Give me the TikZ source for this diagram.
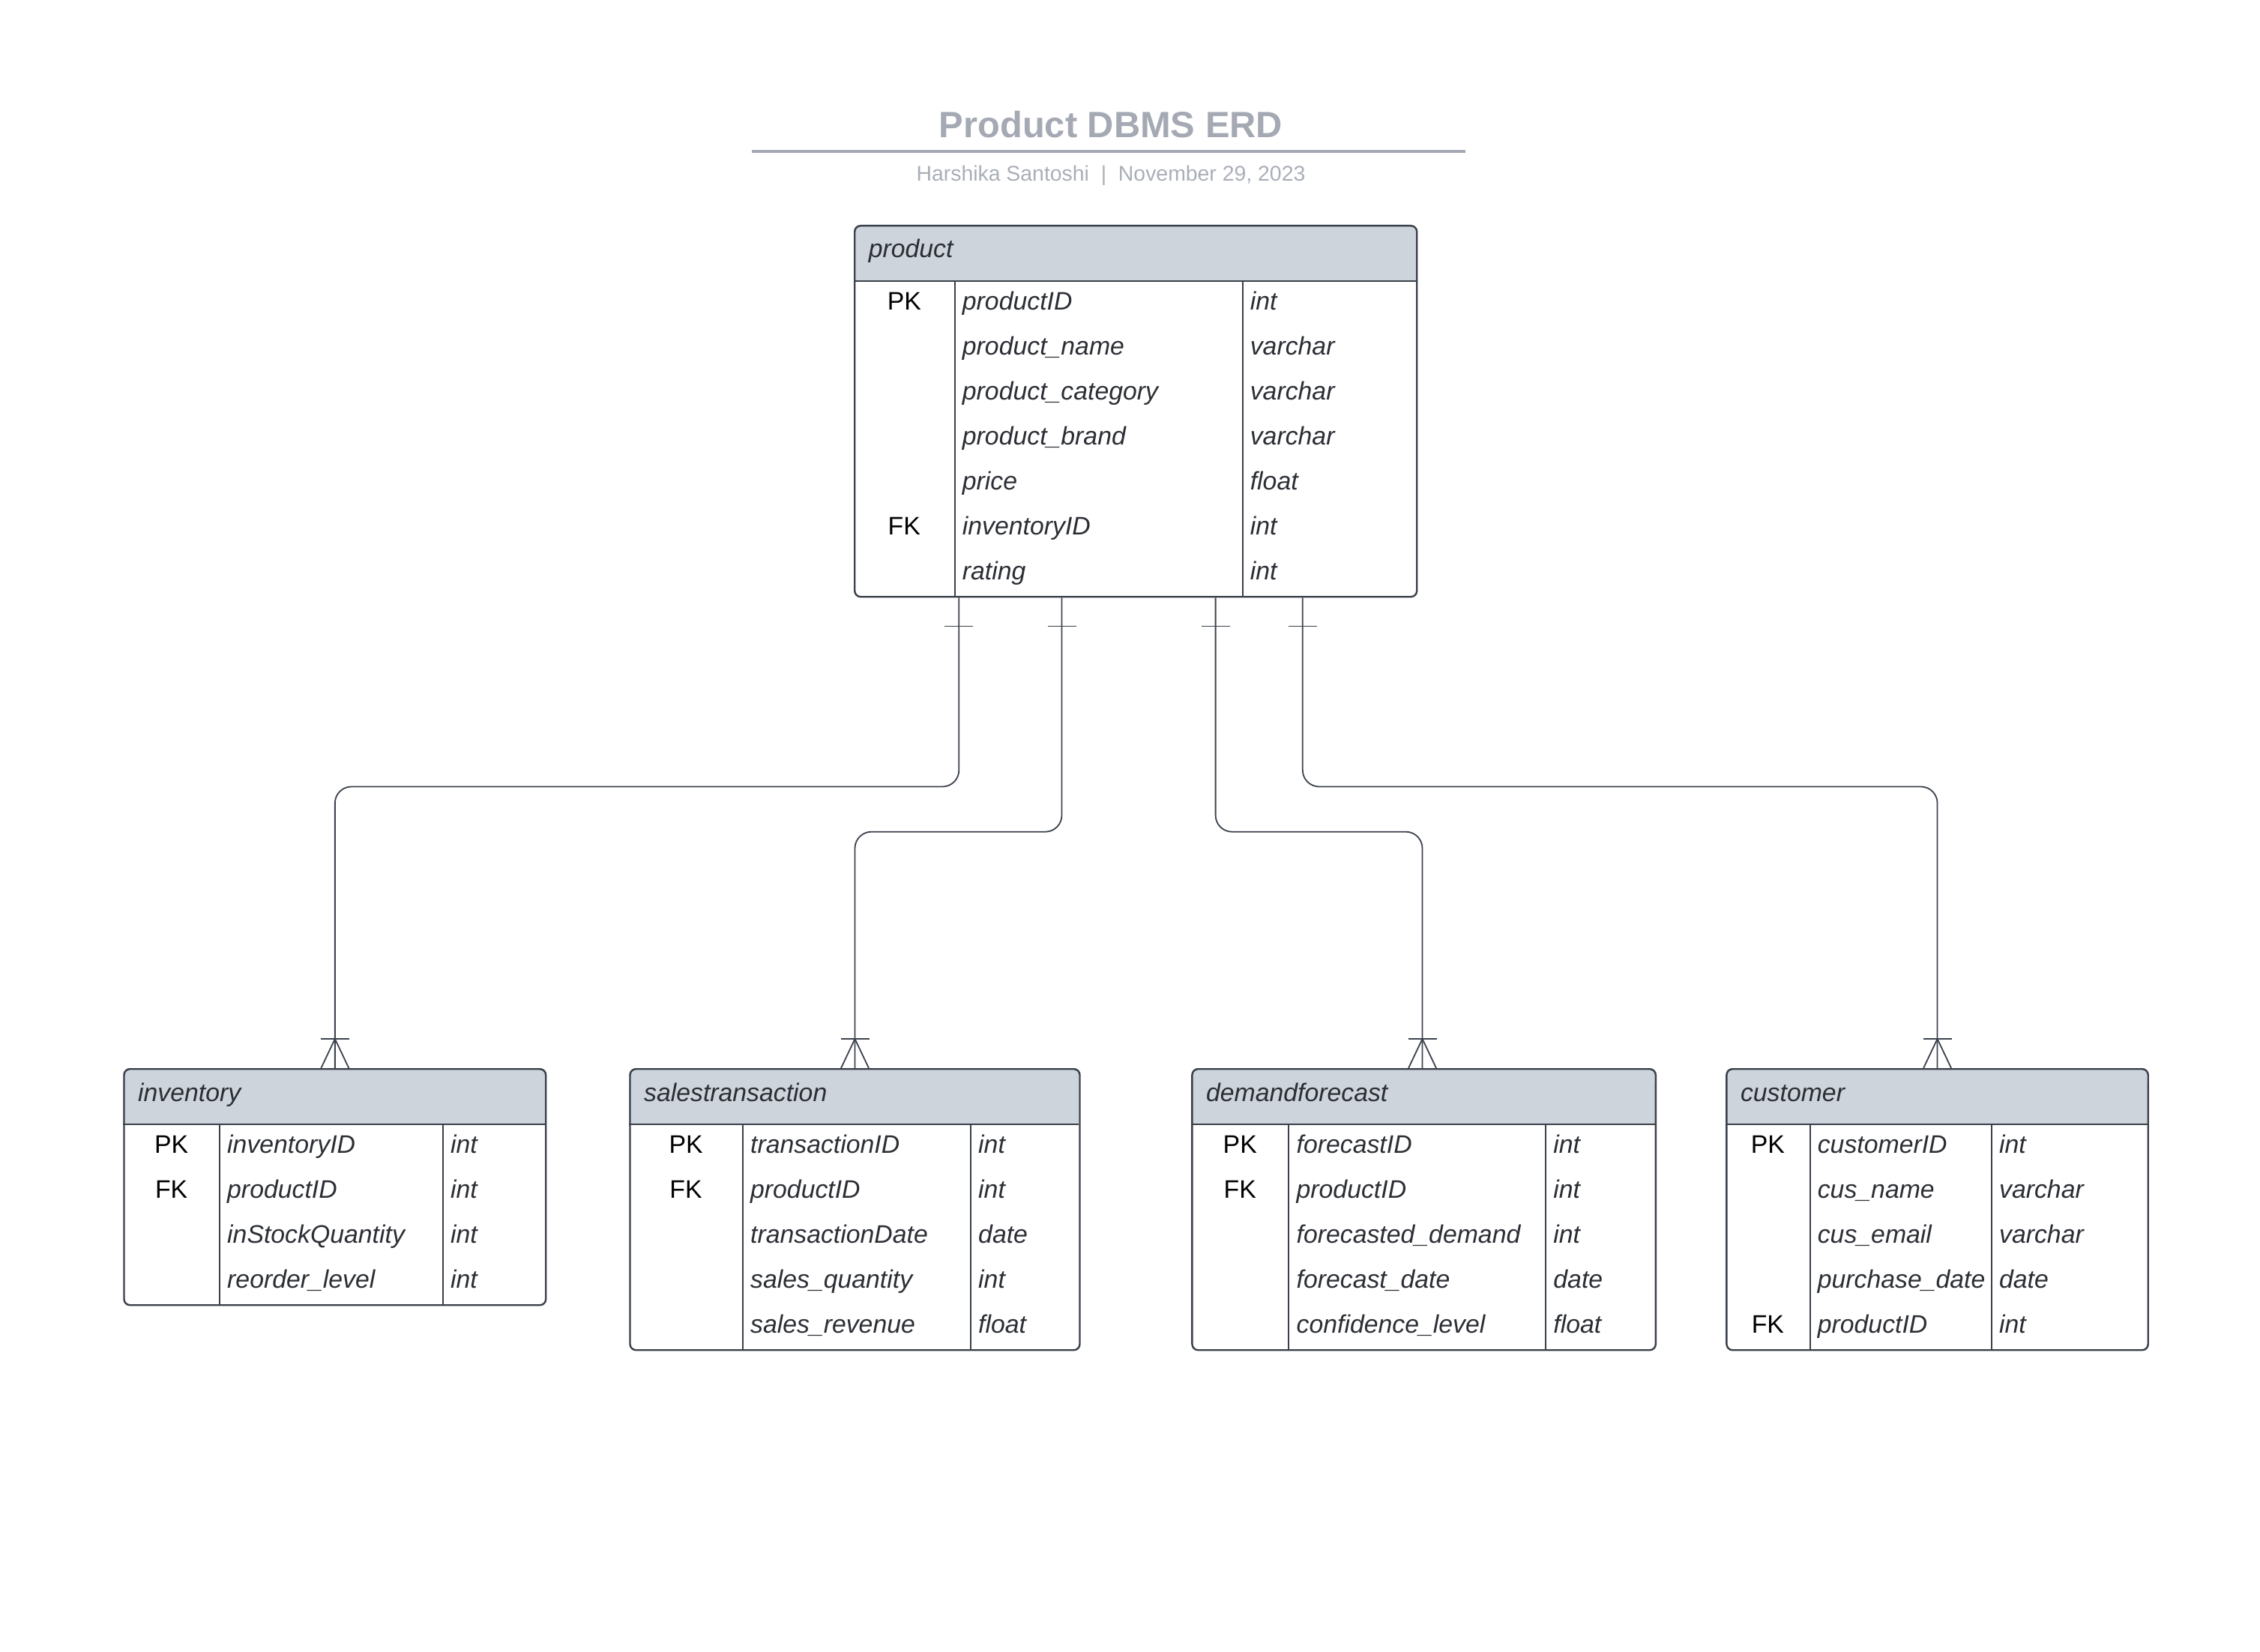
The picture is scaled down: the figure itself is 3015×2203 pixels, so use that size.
\documentclass[tikz,border=0pt]{standalone}
\usepackage{fontspec}
\setmainfont{Liberation Sans}
\usetikzlibrary{calc}
\definecolor{bordercol}{HTML}{3A4049}
\definecolor{conncol}{HTML}{3C434D}
\definecolor{hdrcol}{HTML}{CED4DB}
\definecolor{txtcol}{HTML}{2B2E34}
\definecolor{titlecol}{HTML}{A4A9B3}
\definecolor{subcol}{HTML}{A9AEB8}

\newcommand\erdtable[8]{% #1 name, #2 L, #3 R, #4 top, #5 colA, #6 colB, #7 nrows, #8 title
  \def\erdL{#2}\def\erdR{#3}\def\erdT{#4}\def\erdCa{#5}\def\erdCb{#6}%
  \pgfmathsetmacro\erdHB{#4+75}%
  \pgfmathsetmacro\erdB{#4+75+60*#7}%
  \pgfmathsetmacro\erdW{(#3-#2)*0.25}%
  \pgfmathsetmacro\erdH{(\erdB-#4)*0.25}%
  \pgfmathsetmacro\erdMid{#4+20}%
  \fill[hdrcol, rounded corners=2pt] (#2,#4) rectangle (#3,\erdHB);
  \fill[hdrcol] (#2,\erdMid) rectangle (#3,\erdHB);
  \draw[tline] (#2,\erdHB) -- (#3,\erdHB);
  \draw[cline] (#5,\erdHB) -- (#5,\erdB);
  \draw[cline] (#6,\erdHB) -- (#6,\erdB);
  \node[tablebox, minimum width=\erdW pt, minimum height=\erdH pt, anchor=north west] (#1) at (#2,#4) {};
  \node[hdrtxt] (#1-title) at (#2+19,#4+44) {#8};
}
\newcommand\erdrow[5]{% #1 prefix, #2 index, #3 key, #4 attribute, #5 type
  \pgfmathsetmacro\erdY{\erdHB+38+60*(#2-1)}%
  \node[keytxt] (#1-k#2) at ({(\erdL+\erdCa)/2},\erdY) {#3};
  \node[attrtxt] (#1-a#2) at (\erdCa+9.5,\erdY) {#4};
  \node[attrtxt] (#1-t#2) at (\erdCb+9.5,\erdY) {#5};
}

\begin{document}
\begin{tikzpicture}[x=0.25pt,y=-0.25pt,
  tablebox/.style={draw=bordercol, line width=0.6pt, rounded corners=2pt, inner sep=0pt, fill=none},
  tline/.style={draw=bordercol, line width=0.6pt},
  cline/.style={draw=bordercol, line width=0.5pt},
  conn/.style={draw=conncol, line width=0.45pt, rounded corners=5.5pt},
  tip/.style={draw=conncol, line width=0.45pt, sharp corners},
  keytxt/.style={anchor=base, inner sep=0pt, text=black, font=\fontsize{8.45pt}{10pt}\selectfont},
  attrtxt/.style={anchor=base west, inner sep=0pt, text=txtcol, font=\fontsize{8.45pt}{10pt}\selectfont\itshape},
  hdrtxt/.style={anchor=base west, inner sep=0pt, text=txtcol, font=\fontsize{8.45pt}{10pt}\selectfont\itshape},
  titletxt/.style={anchor=base, inner sep=0pt, text=titlecol, font=\fontsize{12.2pt}{14pt}\selectfont\bfseries},
  subtxt/.style={anchor=base, inner sep=0pt, text=subcol, font=\fontsize{7.1pt}{9pt}\selectfont}
]
\path[use as bounding box] (0,0) rectangle (3015,2203);

% title block
\node[titletxt] (title) at (1482,183.8) {Product DBMS ERD};
\coordinate (ulL) at (1003,201.6);
\coordinate (ulR) at (1955,201.6);
\draw[titlecol, line width=1pt] (ulL) -- (ulR);
\node[subtxt] (subtitle) at (1482,241.2) {Harshika Santoshi\ \ |\ \ November 29, 2023};

% product
\erdtable{product}{1139}{1889}{300}{1273.6}{1657.5}{7}{product}
\erdrow{pr}{1}{PK}{productID}{int}
\erdrow{pr}{2}{}{product\_name}{varchar}
\erdrow{pr}{3}{}{product\_category}{varchar}
\erdrow{pr}{4}{}{product\_brand}{varchar}
\erdrow{pr}{5}{}{price}{float}
\erdrow{pr}{6}{FK}{inventoryID}{int}
\erdrow{pr}{7}{}{rating}{int}

% inventory
\erdtable{inventory}{164.3}{727}{1425}{292.9}{590.8}{4}{inventory}
\erdrow{inv}{1}{PK}{inventoryID}{int}
\erdrow{inv}{2}{FK}{productID}{int}
\erdrow{inv}{3}{}{inStockQuantity}{int}
\erdrow{inv}{4}{}{reorder\_level}{int}

% salestransaction
\erdtable{sales}{839.3}{1439.3}{1425}{990.8}{1294.9}{5}{salestransaction}
\erdrow{st}{1}{PK}{transactionID}{int}
\erdrow{st}{2}{FK}{productID}{int}
\erdrow{st}{3}{}{transactionDate}{date}
\erdrow{st}{4}{}{sales\_quantity}{int}
\erdrow{st}{5}{}{sales\_revenue}{float}

% demandforecast
\erdtable{demand}{1589.2}{2207.6}{1425}{1719.3}{2062.1}{5}{demandforecast}
\erdrow{df}{1}{PK}{forecastID}{int}
\erdrow{df}{2}{FK}{productID}{int}
\erdrow{df}{3}{}{forecasted\_demand}{int}
\erdrow{df}{4}{}{forecast\_date}{date}
\erdrow{df}{5}{}{confidence\_level}{float}

% customer
\erdtable{customer}{2302.2}{2864.5}{1425}{2414.5}{2656.8}{5}{customer}
\erdrow{cu}{1}{PK}{customerID}{int}
\erdrow{cu}{2}{}{cus\_name}{varchar}
\erdrow{cu}{3}{}{cus\_email}{varchar}
\erdrow{cu}{4}{}{purchase\_date}{date}
\erdrow{cu}{5}{FK}{productID}{int}

% connector anchor points on product and children
\path (product.south west) ++(140.3,0) coordinate (ps1);
\path (product.south west) ++(277.5,0) coordinate (ps2);
\path (product.south west) ++(482.6,0) coordinate (ps3);
\path (product.south west) ++(598.8,0) coordinate (ps4);
\path (inventory.north) coordinate (ce1);
\path (sales.north) coordinate (ce2);
\path (demand.north) ++(-2.1,0) coordinate (ce3);
\path (customer.north) coordinate (ce4);
\coordinate (h1) at (0,1049.5);
\coordinate (h2) at (0,1109.7);

% connectors
\draw[conn] (ps1) -- (ps1 |- h1) -| (ce1);
\draw[conn] (ps2) -- (ps2 |- h2) -| (ce2);
\draw[conn] (ps3) -- (ps3 |- h2) -| (ce3);
\draw[conn] (ps4) -- (ps4 |- h1) -| (ce4);

% "one" bars at product
\foreach \p in {ps1,ps2,ps3,ps4}{
  \draw[tip] ([shift={(-19,38)}]\p) -- ([shift={(19,38)}]\p);
}
% crow's feet at children
\foreach \t in {ce1,ce2,ce3,ce4}{
  \draw[tip] ([shift={(-19,-39)}]\t) -- ([shift={(19,-39)}]\t);
  \draw[tip] ([shift={(-18.5,0)}]\t) -- ([shift={(0,-39)}]\t) -- ([shift={(18.5,0)}]\t);
}
\end{tikzpicture}
\end{document}
